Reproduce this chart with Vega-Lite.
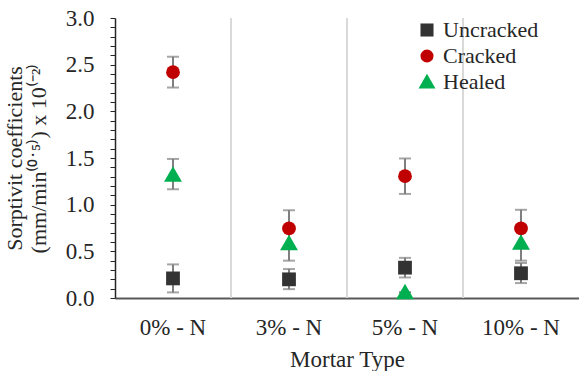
{
  "$schema": "https://vega.github.io/schema/vega-lite/v6.json",
  "width": 464,
  "height": 280,
  "autosize": {"type": "none"},
  "padding": {"left": 115, "top": 18, "right": 0, "bottom": 73},
  "config": {
    "font": "Liberation Serif",
    "view": {"stroke": null},
    "axis": {"labelFont": "Liberation Serif", "titleFont": "Liberation Serif", "labelColor": "#262626", "titleColor": "#262626", "titleFontWeight": "normal"},
    "legend": {"labelFont": "Liberation Serif"}
  },
  "datasets": {
    "points": [
      {"mortar": "0% - N", "condition": "Uncracked", "value": 0.21, "lo": 0.06, "hi": 0.36},
      {"mortar": "0% - N", "condition": "Cracked", "value": 2.42, "lo": 2.255, "hi": 2.585},
      {"mortar": "0% - N", "condition": "Healed", "value": 1.32, "lo": 1.165, "hi": 1.49},
      {"mortar": "3% - N", "condition": "Uncracked", "value": 0.2, "lo": 0.095, "hi": 0.31},
      {"mortar": "3% - N", "condition": "Cracked", "value": 0.745, "lo": 0.55, "hi": 0.94},
      {"mortar": "3% - N", "condition": "Healed", "value": 0.585, "lo": 0.4, "hi": 0.77},
      {"mortar": "5% - N", "condition": "Uncracked", "value": 0.325, "lo": 0.22, "hi": 0.43},
      {"mortar": "5% - N", "condition": "Cracked", "value": 1.305, "lo": 1.115, "hi": 1.495},
      {"mortar": "5% - N", "condition": "Healed", "value": 0.06, "lo": 0.06, "hi": 0.06},
      {"mortar": "10% - N", "condition": "Uncracked", "value": 0.265, "lo": 0.16, "hi": 0.375},
      {"mortar": "10% - N", "condition": "Cracked", "value": 0.745, "lo": 0.545, "hi": 0.945},
      {"mortar": "10% - N", "condition": "Healed", "value": 0.59, "lo": 0.4, "hi": 0.78}
    ],
    "separators": [
      {"mortar": "3% - N"},
      {"mortar": "5% - N"},
      {"mortar": "10% - N"}
    ]
  },
  "layer": [
    {
      "data": {"name": "separators"},
      "mark": {"type": "rule", "color": "#d9d9d9", "strokeWidth": 2},
      "encoding": {
        "x": {"field": "mortar", "type": "nominal", "bandPosition": 0, "sort": ["0% - N", "3% - N", "5% - N", "10% - N"]}
      }
    },
    {
      "data": {"name": "points"},
      "layer": [
        {
          "mark": {"type": "rule", "color": "#7f7f7f", "strokeWidth": 2},
          "encoding": {
            "x": {"field": "mortar", "type": "nominal"},
            "y": {"field": "lo", "type": "quantitative"},
            "y2": {"field": "hi"}
          }
        },
        {
          "mark": {"type": "tick", "color": "#7f7f7f", "size": 12, "thickness": 2},
          "encoding": {
            "x": {"field": "mortar", "type": "nominal"},
            "y": {"field": "lo", "type": "quantitative"}
          }
        },
        {
          "mark": {"type": "tick", "color": "#7f7f7f", "size": 12, "thickness": 2},
          "encoding": {
            "x": {"field": "mortar", "type": "nominal"},
            "y": {"field": "hi", "type": "quantitative"}
          }
        },
        {
          "mark": {"type": "point", "filled": true, "opacity": 1, "size": 190},
          "encoding": {
            "x": {"field": "mortar", "type": "nominal"},
            "y": {"field": "value", "type": "quantitative"},
            "color": {
              "field": "condition", "type": "nominal",
              "scale": {"domain": ["Uncracked", "Cracked", "Healed"], "range": ["#333333", "#c00000", "#00b050"]},
              "legend": {
                "title": null, "orient": "none", "legendX": 301, "legendY": 1,
                "labelFontSize": 22, "labelColor": "#262626", "symbolSize": 170,
                "rowPadding": 4, "labelOffset": 5, "padding": 0, "symbolStrokeWidth": 0
              }
            },
            "shape": {
              "field": "condition", "type": "nominal",
              "scale": {"domain": ["Uncracked", "Cracked", "Healed"], "range": ["square", "circle", "M-1.3,1L1.3,1L0,-1.25Z"]},
              "legend": {
                "title": null, "orient": "none", "legendX": 301, "legendY": 1,
                "labelFontSize": 22, "labelColor": "#262626", "symbolSize": 170,
                "rowPadding": 4, "labelOffset": 5, "padding": 0, "symbolStrokeWidth": 0
              }
            }
          }
        }
      ]
    }
  ],
  "encoding": {
    "x": {
      "field": "mortar", "type": "nominal",
      "sort": ["0% - N", "3% - N", "5% - N", "10% - N"],
      "scale": {"paddingInner": 0, "paddingOuter": 0},
      "axis": {
        "title": "Mortar Type", "titleFontSize": 23, "labelFontSize": 23, "labelAngle": 0,
        "ticks": false, "grid": false, "domainColor": "#595959", "domainWidth": 2,
        "labelPadding": 18, "titlePadding": 9
      }
    },
    "y": {
      "type": "quantitative",
      "scale": {"domain": [0, 3], "nice": false},
      "axis": {
        "title": ["Sorptivit coefficients", "(mm/min⁽⁰˙⁵⁾) x 10⁽⁻²⁾"],
        "titleFontSize": 22, "labelFontSize": 23, "grid": false,
        "values": [0, 0.1, 0.2, 0.3, 0.4, 0.5, 0.6, 0.7, 0.8, 0.9, 1, 1.1, 1.2, 1.3, 1.4, 1.5, 1.6, 1.7, 1.8, 1.9, 2, 2.1, 2.2, 2.3, 2.4, 2.5, 2.6, 2.7, 2.8, 2.9, 3],
        "labelExpr": "round(datum.value*10) % 5 == 0 ? format(datum.value, '.1f') : ''",
        "tickSize": 5, "tickColor": "#262626", "tickWidth": 1, "domainColor": "#262626", "domainWidth": 1.5,
        "labelPadding": 16, "titlePadding": 15,
        "encode": {
          "ticks": {
            "update": {
              "x": {"signal": "round(datum.value*10) % 5 == 0 ? 5 : 0"},
              "x2": {"signal": "round(datum.value*10) % 5 == 0 ? -5 : 5"}
            }
          }
        }
      }
    }
  }
}
